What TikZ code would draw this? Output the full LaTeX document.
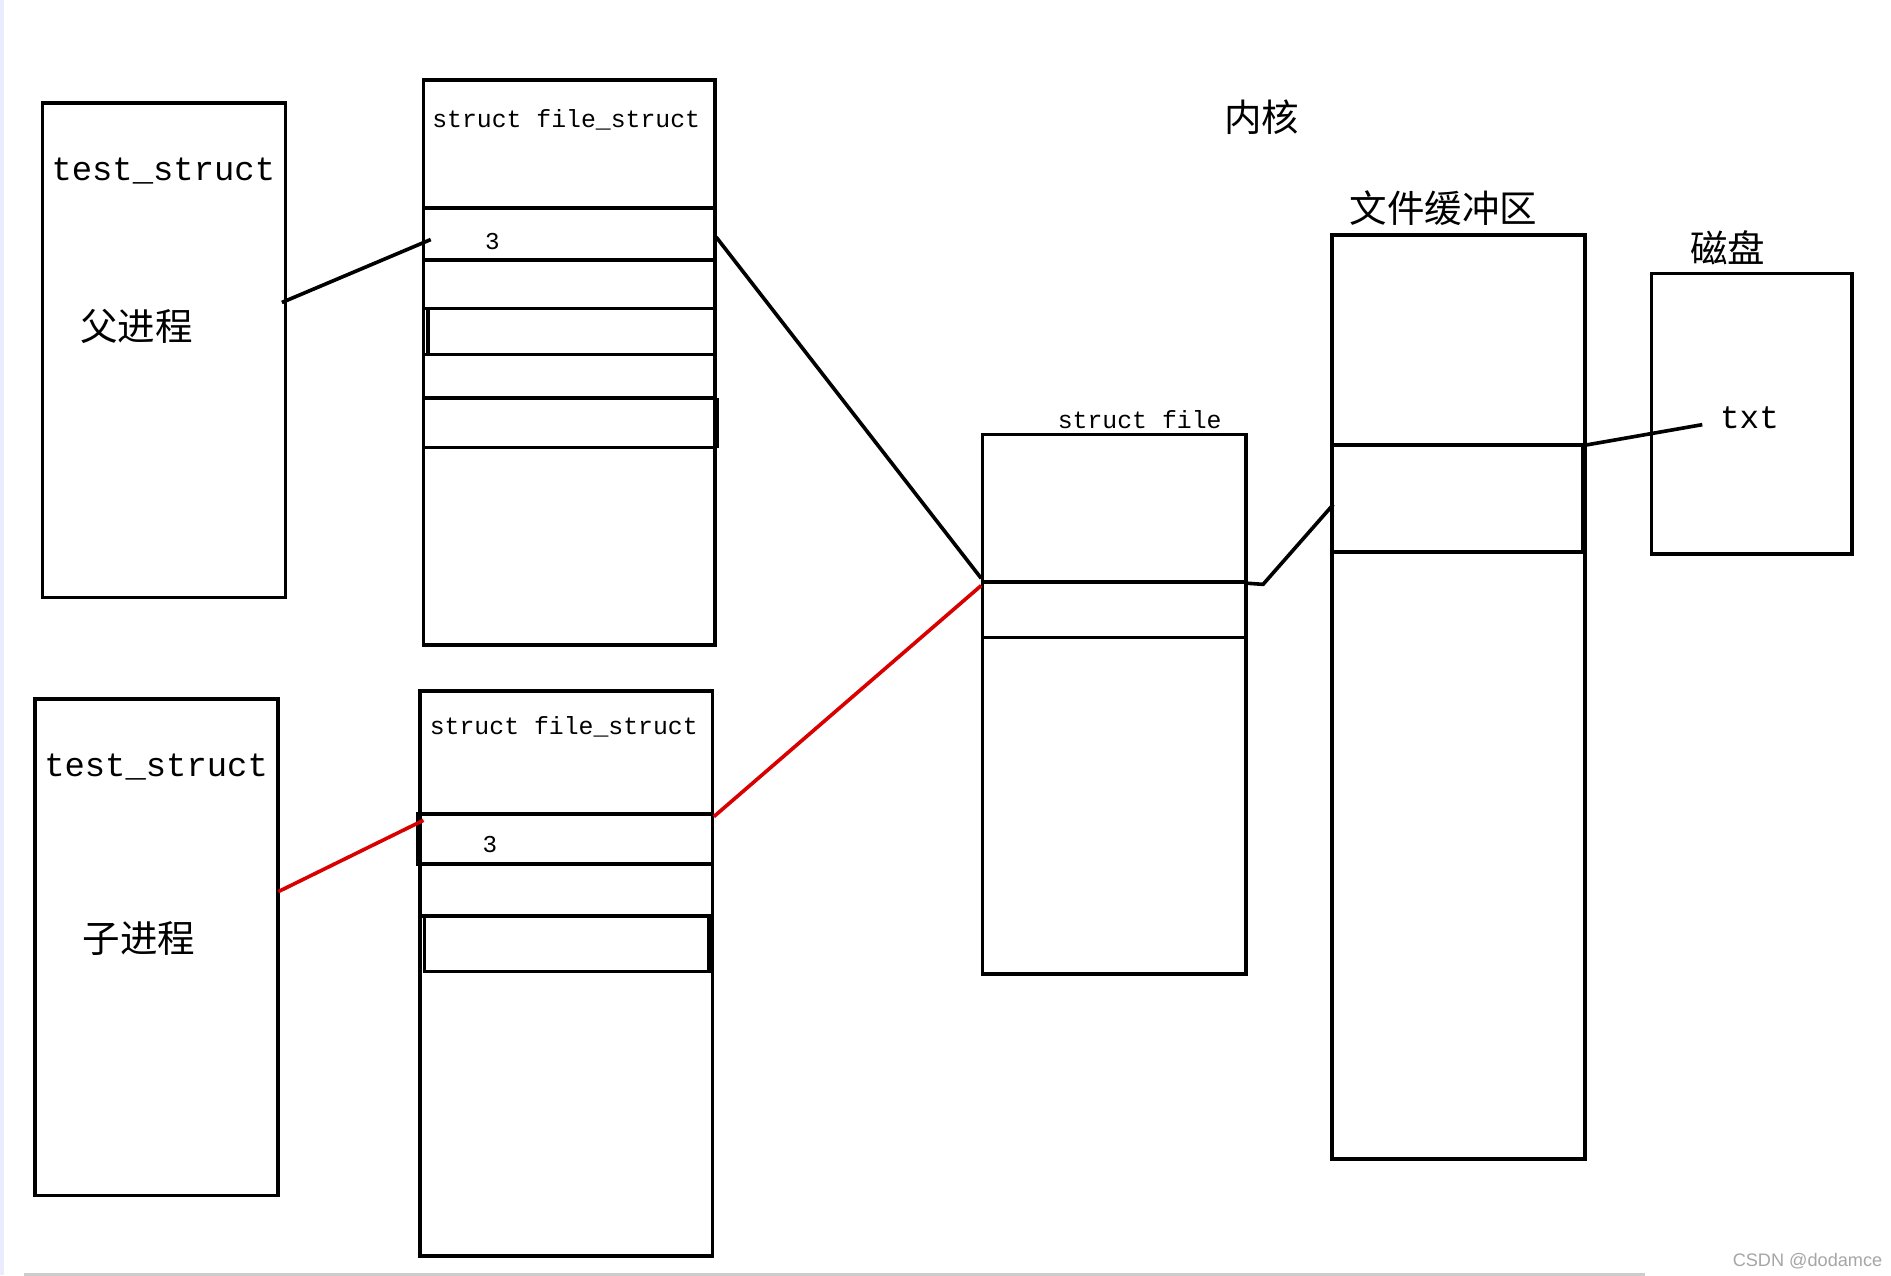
\documentclass[tikz,border=0pt]{standalone}
\usepackage{fontspec}
\setmonofont{Liberation Mono}
\newfontfamily\cjk{Noto Sans CJK SC}
\begin{document}
\begin{tikzpicture}[x=1pt,y=-1pt,
  bx/.style={draw=black,line width=3pt},
  ln/.style={draw=black,line width=3pt},
  rl/.style={draw=red!85!black,line width=3pt},
  mono/.style={font=\ttfamily\fontsize{#1}{#1}\selectfont,inner sep=0pt},
  zh/.style={font=\cjk\fontsize{31}{31}\selectfont,inner sep=0pt}]
\useasboundingbox[fill=white] (0,0) rectangle (1563,1054);
\fill[blue!8] (0,0) rectangle (3,1054);
\draw[gray!40,line width=3pt] (20,1054) -- (1360,1054);
% left boxes
\draw[bx] (35,85) rectangle (236,494);
\node[mono=28] (ts1) at (135,141) {test\_struct};
\node[zh] (p1) at (113,270) {父进程};
\draw[bx] (29,578) rectangle (230,988);
\node[mono=28] (ts2) at (129,634) {test\_struct};
\node[zh] (p2) at (115,776) {子进程};
% file_struct upper
\draw[bx] (350,66) rectangle (591,533);
\node[mono=20.5] (fs1) at (468,99) {struct file\_struct};
\draw[ln] (350,172) -- (591,172) (350,215) -- (591,215) (350,255) -- (591,255)
  (350,293) -- (591,293) (350,329) -- (593,329) (350,370) -- (593,370) (593,329) -- (593,370);
\draw[ln] (354,255) -- (354,293);
\node[mono=20] (n1) at (407,200) {3};
% file_struct lower
\draw[bx] (347,571) rectangle (589,1038);
\node[mono=20.5] (fs2) at (466,601) {struct file\_struct};
\draw[ln] (345,673) rectangle (589,714);
\draw[ln] (347,757) -- (589,757);
\draw[ln] (351,757) rectangle (586,803);
\node[mono=20] (n2) at (405,698) {3};
% struct file
\draw[bx] (812,359) rectangle (1030,805);
\draw[ln] (812,481) -- (1030,481) (812,527) -- (1030,527);
\node[mono=20.5] (sf) at (942,347) {struct file};
% buffer
\draw[bx] (1101,194) rectangle (1310,958);
\draw[ln] (1101,368) -- (1310,368) (1101,456) -- (1310,456) (1308,368) -- (1308,456);
\node[zh] (buf) at (1193,172) {文件缓冲区};
% disk
\draw[bx] (1365,226) rectangle (1531,458);
\node[zh] (disk) at (1428,205) {磁盘};
\node[mono=27] (txt) at (1446,345) {txt};
\node[zh] (k) at (1043,97) {内核};
% connectors
\coordinate (a1) at (233,250); \coordinate (a2) at (356,198);
\coordinate (b1) at (592,196); \coordinate (b2) at (811,478);
\coordinate (c1) at (230,737); \coordinate (c2) at (350,678);
\coordinate (d1) at (590,675); \coordinate (d2) at (811,484);
\coordinate (e1) at (1030,482); \coordinate (e2) at (1044,483); \coordinate (e3) at (1102,417);
\coordinate (f1) at (1310,368); \coordinate (f2) at (1407,351);
\draw[ln] (a1) -- (a2);
\draw[ln] (b1) -- (b2);
\draw[rl] (c1) -- (c2);
\draw[rl] (d1) -- (d2);
\draw[ln] (e1) -- (e2) -- (e3);
\draw[ln] (f1) -- (f2);
\node[font=\fontspec{Liberation Sans}\fontsize{15}{15}\selectfont,text=gray!70,anchor=east,inner sep=0pt] (wm) at (1556,1042) {CSDN @dodamce};
\end{tikzpicture}
\end{document}
